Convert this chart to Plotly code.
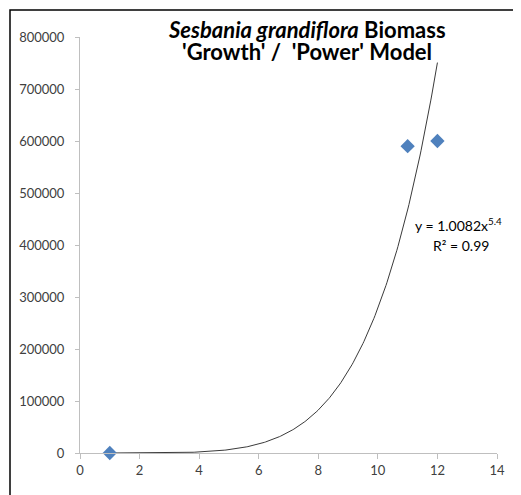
import numpy as np
import plotly.graph_objects as go

# Data
x_vals = [1, 11, 12]
y_vals = [1, 590000, 600000]
x_ticks = [0, 2, 4, 6, 8, 10, 12, 14]
y_ticks = [0, 100000, 200000, 300000, 400000, 500000, 600000, 700000, 800000]
y_tick_text = [str(v) for v in y_ticks]
title_line1 = "<i>Sesbania grandiflora</i> Biomass"
title_line2 = "'Growth' /  'Power' Model"
eq_line1 = "y = 1.0082x<sup>5.4</sup>"
eq_line2 = "R² = 0.99"

# Power trendline fit (log-log least squares, as Excel does)
b, ln_a = np.polyfit(np.log(x_vals), np.log(y_vals), 1)
a = np.exp(ln_a)
xt = np.linspace(min(x_vals), max(x_vals), 300)
yt = a * xt ** b

FONT = "Lato, 'Open Sans', sans-serif"
AX = "#BFBFBF"
TXT = "#404040"

# plot area in page pixels (page has an 8px body margin)
PX0, PX1, PY0, PY1 = 80, 497, 37, 453


def px(x):
    return (x - PX0) / (PX1 - PX0)


def py(y):
    return (PY1 - y) / (PY1 - PY0)


fig = go.Figure()
fig.add_trace(go.Scatter(x=xt, y=yt, mode="lines",
                         line=dict(color="#3a3a3a", width=1), hoverinfo="skip"))
fig.add_trace(go.Scatter(x=x_vals, y=y_vals, mode="markers",
                         marker=dict(symbol="diamond", size=11, color="#4F81BD",
                                     line=dict(width=0)), cliponaxis=False))

fig.update_layout(
    width=513, height=487,
    margin=dict(l=PX0 - 8, r=521 - PX1, t=PY0 - 8, b=495 - PY1),
    paper_bgcolor="white", plot_bgcolor="white",
    showlegend=False,
    font=dict(family=FONT, size=13, color=TXT),
    xaxis=dict(range=[0, 14], tickvals=x_ticks, showgrid=False, zeroline=False,
               showline=True, linecolor=AX, linewidth=1,
               ticks="outside", ticklen=5, tickcolor=AX,
               tickfont=dict(family=FONT, size=13, color=TXT)),
    yaxis=dict(range=[0, 800000], tickvals=y_ticks, ticktext=y_tick_text,
               showgrid=False, zeroline=False,
               showline=True, linecolor=AX, linewidth=1,
               ticks="outside", ticklen=4, tickcolor=AX,
               ticklabelstandoff=8,
               tickfont=dict(family=FONT, size=13, color=TXT)),
    shapes=[dict(type="rect", xref="paper", yref="paper", layer="above",
                 x0=px(10), x1=px(560), y0=py(10), y1=py(540),
                 line=dict(color="black", width=1.5),
                 fillcolor="rgba(0,0,0,0)")],
    annotations=[
        dict(text="<b>" + title_line1 + "</b>", xref="paper", yref="paper",
             x=px(307), y=py(29), showarrow=False,
             xanchor="center", yanchor="middle",
             font=dict(family=FONT, size=22, color="black")),
        dict(text="<b>" + title_line2 + "</b>", xref="paper", yref="paper",
             x=px(307), y=py(51), showarrow=False,
             xanchor="center", yanchor="middle",
             font=dict(family=FONT, size=22, color="black")),
        dict(text=eq_line1, xref="paper", yref="paper",
             x=px(458), y=py(225), showarrow=False,
             xanchor="center", yanchor="middle",
             font=dict(family=FONT, size=14, color="black")),
        dict(text=eq_line2, xref="paper", yref="paper",
             x=px(461), y=py(245), showarrow=False,
             xanchor="center", yanchor="middle",
             font=dict(family=FONT, size=14, color="black")),
    ],
)

fig.write_html("out.html")
